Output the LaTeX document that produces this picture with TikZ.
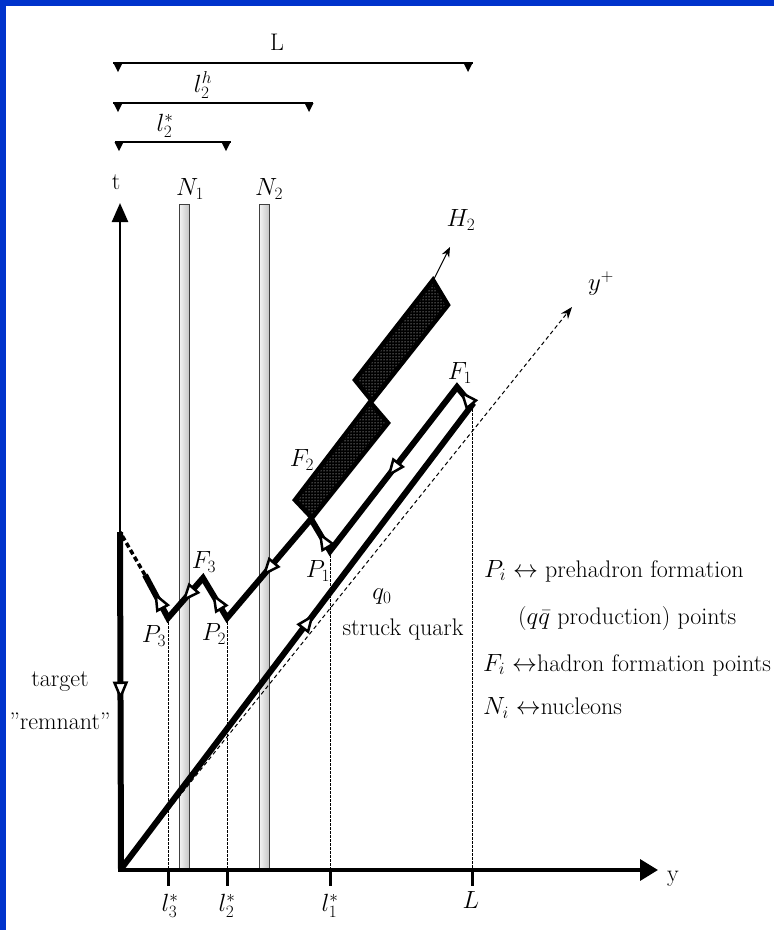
\documentclass[tikz,border=0pt]{standalone}
\usetikzlibrary{arrows.meta,decorations.markings,patterns}
\definecolor{frameblue}{RGB}{0,51,204}
\tikzset{
  world/.style={line width=6pt, line join=miter, line cap=butt},
  tri/.style={postaction={decorate}, decoration={markings, mark=at position #1 with {\arrow{Triangle[length=19pt,width=15pt,fill=white,line width=2.5pt]}}}},
  drop/.style={line width=0.8pt, dash pattern=on 2.5pt off 1.5pt},
  dimline/.style={line width=1.5pt},
  tickmark/.style={line width=3pt},
  hadron/.style={draw=black, line width=4.5pt, line join=miter},
  lab/.style={inner sep=0pt},
  dimtip/.pic={\fill (-4.5,0) -- (4.5,0) -- (0,9) -- cycle;},
  nucleon/.style={left color=gray!8, right color=gray!45, draw=black!75, line width=0.8pt},
}
\begin{document}
\begin{tikzpicture}[x=1pt,y=-1pt,font=\fontsize{24}{28}\selectfont]
\useasboundingbox (0,0) rectangle (774,930);
\fill[white] (0,0) rectangle (774,930);
\fill[frameblue] (0,0) rectangle (774,6);
\fill[frameblue] (0,0) rectangle (6,930);

% coordinates
\coordinate (O) at (121,869);
\coordinate (Ax) at (118,870);
\coordinate (Ay) at (658,870);
\coordinate (Tb) at (120,872);
\coordinate (Tt) at (120,203);
\coordinate (C1) at (472,405);
\coordinate (F1) at (457,387);
\coordinate (P1) at (330,551);
\coordinate (J) at (311,519);
\coordinate (P2) at (227,618);
\coordinate (F3) at (203,578);
\coordinate (P3) at (168,618);
\coordinate (D) at (145,575);
\coordinate (R) at (120,532);
\coordinate (Yp) at (572,307);
\coordinate (Bt) at (433,281);
\coordinate (Ht) at (450,247);

% top dimension lines
\coordinate (La) at (113,63); \coordinate (Lb) at (473,63);
\coordinate (Ha) at (113,103); \coordinate (Hb) at (313,103);
\coordinate (Sa) at (115,142); \coordinate (Sb) at (231,142);
\draw[dimline] (La) -- (Lb);
\draw[dimline] (Ha) -- (Hb);
\draw[dimline] (Sa) -- (Sb);
\pic at (118,63) {dimtip}; \pic at (468,63) {dimtip};
\pic at (118,103) {dimtip}; \pic at (309,103) {dimtip};
\pic at (119,142) {dimtip}; \pic at (226,142) {dimtip};
\node[lab] (labL) at (277,42) {L};
\node[lab] (labLh) at (203,85) {$l_2^h$};
\node[lab] (labLs) at (165,126) {$l_2^*$};

% nucleons
\shade[nucleon] (179,204) rectangle (189,870);
\shade[nucleon] (259,204) rectangle (269,870);
\node[lab] (N1) at (190,189) {$N_1$};
\node[lab] (N2) at (269,189) {$N_2$};

% drop lines
\draw[drop] (P3) -- (P3 |- Ax);
\draw[drop] (P2) -- (P2 |- Ax);
\draw[drop] (P1) -- (P1 |- Ax);
\draw[drop] (C1) -- (C1 |- Ax);

% y+ direction
\draw[line width=1pt, dash pattern=on 4pt off 3pt, -{Stealth[length=12pt,width=9pt]}] (O) -- (Yp);
\node[lab] (yplus) at (601,284) {$y^+$};

% axes
\draw[line width=2.5pt, -{Triangle[length=19pt,width=16pt]}] (Tb) -- (Tt);
\draw[line width=3.5pt, -{Triangle[length=18pt,width=21pt]}] (Ax) -- (Ay);
\node[lab] (tlab) at (116,182) {t};
\node[lab] (ylab) at (673,879) {y};

% ticks
\foreach \xx in {168,227,330,472} \draw[tickmark] (\xx,870) -- (\xx,886);
\node[lab] (t3) at (170,906) {$l_3^*$};
\node[lab] (t2) at (227,906) {$l_2^*$};
\node[lab] (t1) at (330,906) {$l_1^*$};
\node[lab] (tL) at (471,900) {$L$};

% world lines
\draw[world] (O) -- (C1) -- (F1) -- (P1) -- (J) -- (P2) -- (F3) -- (P3) -- (D);
\draw[world] (R) -- (O);
\draw[line width=3.5pt, dash pattern=on 5pt off 3pt] (D) -- (R);
\path[tri=0.55] (O) -- (C1);
\path[tri=0.8] (C1) -- (F1);
\path[tri=0.55] (F1) -- (P1);
\path[tri=0.6] (P1) -- (J);
\path[tri=0.58] (J) -- (P2);
\path[tri=0.62] (P2) -- (F3);
\path[tri=0.6] (F3) -- (P3);
\path[tri=0.6] (P3) -- (D);
\path[tri=0.5] (R) -- (O);

% hadron boxes
\fill[black] (295,500) -- (312,518) -- (388,423) -- (370,402) -- cycle;
\fill[pattern=dots, pattern color=white] (295,500) -- (312,518) -- (388,423) -- (370,402) -- cycle;
\draw[hadron] (295,500) -- (312,518) -- (388,423) -- (370,402) -- cycle;
\fill[black] (355,380) -- (372,401) -- (448,305) -- (433,280) -- cycle;
\fill[pattern=dots, pattern color=white] (355,380) -- (372,401) -- (448,305) -- (433,280) -- cycle;
\draw[hadron] (355,380) -- (372,401) -- (448,305) -- (433,280) -- cycle;
\draw[line width=1pt, -{Stealth[length=10pt,width=8pt]}] (Bt) -- (Ht);
\node[lab] (H2) at (461,220) {$H_2$};

% point labels
\node[lab] (lF1) at (460,373) {$F_1$};
\node[lab] (lF2) at (302,460) {$F_2$};
\node[lab] (lF3) at (204,562) {$F_3$};
\node[lab] (lP1) at (318,571) {$P_1$};
\node[lab] (lP2) at (214,634) {$P_2$};
\node[lab] (lP3) at (154,636) {$P_3$};
\node[lab] (q0) at (382,597) {$q_0$};
\node[lab] (sq) at (403,630) {struck quark};
\node[lab] (tg) at (60,682) {target};
\node[lab] (rm) at (60,721) {''remnant''};

% legend
\node[lab, anchor=west] (lg1) at (484,571) {$P_i \leftrightarrow$ prehadron formation};
\node[lab, anchor=west] (lg2) at (518,619) {($q\bar q$ production) points};
\node[lab, anchor=west] (lg3) at (483,665) {$F_i \leftrightarrow$hadron formation points};
\node[lab, anchor=west] (lg4) at (483,708) {$N_i \leftrightarrow$nucleons};
\end{tikzpicture}
\end{document}
